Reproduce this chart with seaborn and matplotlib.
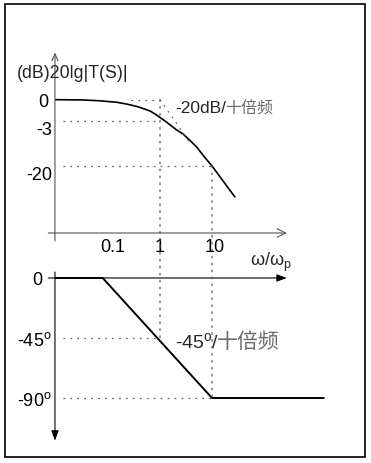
import matplotlib
matplotlib.use("Agg")
import matplotlib.pyplot as plt
import seaborn as sns
import numpy as np
from matplotlib.patches import Rectangle, ConnectionPatch
from matplotlib.ticker import NullLocator
from matplotlib.transforms import ScaledTranslation

# magnitude curve (omega/omega_p, dB)
mag_w = [0.00955, 0.033, 0.0702, 0.149, 0.232, 0.361, 0.471, 0.642, 0.801,
         1.0, 1.248, 1.557, 2.03, 2.77, 3.78, 5.15, 7.02, 10.0, 27.5]
mag_db = [0, -0.04, -0.16, -0.37, -0.63, -0.96, -1.24, -1.59, -2.01,
          -2.51, -3.0, -4.44, -6.21, -7.91, -10.37, -13.0, -16.4, -20, -28.8]
mag_ticks = [0, -3, -20]
mag_tick_labels = ["0", "-3", "-20"]

# phase asymptote (omega/omega_p, degrees)
ph_w = [0.00955, 0.079, 10.0, 1413.0]
ph_deg = [0, 0, -90, -90]
ph_ticks = [0, -45, -90]
ph_tick_labels = ["0", "-45$^{\\mathrm{o}}$", "-90$^{\\mathrm{o}}$"]

w_ticks = [0.1, 1, 10]
w_tick_labels = ["0.1", "1", "10"]

sns.set_theme(style="white")
plt.rcParams["font.family"] = ["Liberation Sans", "Noto Sans CJK SC", "DejaVu Sans"]
plt.rcParams["mathtext.fontset"] = "custom"
plt.rcParams["mathtext.rm"] = "Liberation Sans"
plt.rcParams["lines.scale_dashes"] = False

W, H = 371, 464
fig = plt.figure(figsize=(W / 100, H / 100), dpi=100)

# layout in pixels: omega=1 at x=160, 52 px per decade
x_lo, x_hi = -2.02, 3.2
left = (160 + 52 * x_lo) / W
width = 52 * (x_hi - x_lo) / W

# the dB axis of the sketch is not linear: piecewise scale
db_knots = [-100, -20, -3, 0, 100]
u_knots = [-347.5, -66.3, -21.3, 0, 333]
fwd = lambda v: np.interp(v, db_knots, u_knots)
inv = lambda u: np.interp(u, u_knots, db_knots)

ax1 = fig.add_axes([left, 1 - 237.3 / H, width, 186.6 / H])
ax2 = fig.add_axes([left, 1 - 445.7 / H, width, 177.4 / H])

dot = (0, (1.2, 3.8))
dot_c = "#5a5a5a"


def shift(lab, dx_px):
    lab.set_transform(lab.get_transform()
                      + ScaledTranslation(dx_px / 100, 0, fig.dpi_scale_trans))


for ax in (ax1, ax2):
    ax.set_xscale("log")
    ax.set_xlim(10 ** x_lo, 10 ** x_hi)
    ax.xaxis.set_minor_locator(NullLocator())
    ax.set_facecolor("none")
    for s in ax.spines.values():
        s.set_visible(False)
    ax.tick_params(length=0, labelsize=13, colors="black")

# ---- magnitude ----
ax1.set_yscale("function", functions=(fwd, inv))
ax1.set_ylim(-40, 15)
sns.lineplot(x=mag_w, y=mag_db, ax=ax1, color="black", lw=1.2,
             estimator=None, sort=False)
ax1.set_yticks(mag_ticks, mag_tick_labels)
ax1.yaxis.set_minor_locator(NullLocator())
ax1.tick_params(axis="y", pad=2)
ylabs = ax1.get_yticklabels()
for lab in ylabs[1:]:
    lab.set_va("top")
shift(ylabs[0], -4)
ax1.set_xticks(w_ticks, w_tick_labels)
ax1.tick_params(axis="x", pad=1)
xlabs = ax1.get_xticklabels()
shift(xlabs[0], 5)
shift(xlabs[2], 3)

ax1.plot([0.28, 1], [0, 0], ls=dot, color=dot_c, lw=0.9)
ax1.plot([1, 4.0], [0, -12], ls=dot, color=dot_c, lw=0.9)
ax1.plot([0.0135, 1], [-3, -3], ls=dot, color=dot_c, lw=0.9)
ax1.plot([0.0135, 10], [-20, -20], ls=dot, color=dot_c, lw=0.9)

ax1.annotate("", xy=(275, 0.0177), xytext=(0.0071, 0.0177),
             xycoords=("data", "axes fraction"),
             arrowprops=dict(arrowstyle="->,head_length=0.6,head_width=0.3",
                             color="#555555", lw=0.8, shrinkA=0, shrinkB=0,
                             mutation_scale=10))
ax1.annotate("", xy=(0.00955, 0.985), xytext=(0.00955, -0.025),
             xycoords=("data", "axes fraction"),
             arrowprops=dict(arrowstyle="->,head_length=0.5,head_width=0.22",
                             color="#555555", lw=0.8, shrinkA=0, shrinkB=0,
                             mutation_scale=10))

ax1.text(0.0018, 8.3, "(dB)20lg|T(S)|", fontsize=12.8, ha="left", va="center")
ax1.text(1.94, -1.17, "-20dB/", fontsize=12.5, ha="left", va="center")
ax1.text(17.6, -1.17, "十倍频", fontsize=11.5, color="#6a6a6a",
         ha="left", va="center", family=["Noto Sans CJK SC"])
ax1.text(53, -47, "ω/ω$_{\\mathrm{p}}$", fontsize=13, ha="left", va="center")

# ---- phase ----
ax2.set_ylim(-125, 8)
sns.lineplot(x=ph_w, y=ph_deg, ax=ax2, color="black", lw=1.4,
             estimator=None, sort=False)
ax2.set_yticks(ph_ticks, ph_tick_labels)
ax2.set_xticks([])
ax2.tick_params(axis="y", pad=2)
shift(ax2.get_yticklabels()[0], -10)

ax2.plot([0.0135, 1], [-45, -45], ls=dot, color=dot_c, lw=0.9)
ax2.plot([0.0135, 10], [-90, -90], ls=dot, color=dot_c, lw=0.9)

ax2.annotate("", xy=(275, 0), xytext=(0.0071, 0),
             arrowprops=dict(arrowstyle="-|>,head_length=0.6,head_width=0.22",
                             color="black", lw=0.8, shrinkA=0, shrinkB=0,
                             mutation_scale=10))
ax2.annotate("", xy=(0.00955, -122), xytext=(0.00955, 4.5),
             arrowprops=dict(arrowstyle="-|>,head_length=0.6,head_width=0.22",
                             color="black", lw=0.8, shrinkA=0, shrinkB=0,
                             mutation_scale=10))

ax2.text(1.94, -47.6, "-45$^{\\mathrm{o}}$/", fontsize=14, ha="left", va="center")
ax2.text(12.6, -47.6, "十倍频", fontsize=15, color="#6a6a6a",
         ha="left", va="center", family=["Noto Sans CJK SC"])

# vertical guides running through both panels
for xa, ya, yb in [(1, 0, -45), (10, -20, -90)]:
    con = ConnectionPatch(xyA=(xa, ya), coordsA="data", axesA=ax1,
                          xyB=(xa, yb), coordsB="data", axesB=ax2,
                          ls=dot, color=dot_c, lw=0.9)
    fig.add_artist(con)

# frame
fig.add_artist(Rectangle((4.5 / W, 1 - 458 / H), 360 / W, 453 / H,
                         transform=fig.transFigure, fill=False,
                         edgecolor="black", lw=1.2))

fig.savefig("out.png", dpi=100)
